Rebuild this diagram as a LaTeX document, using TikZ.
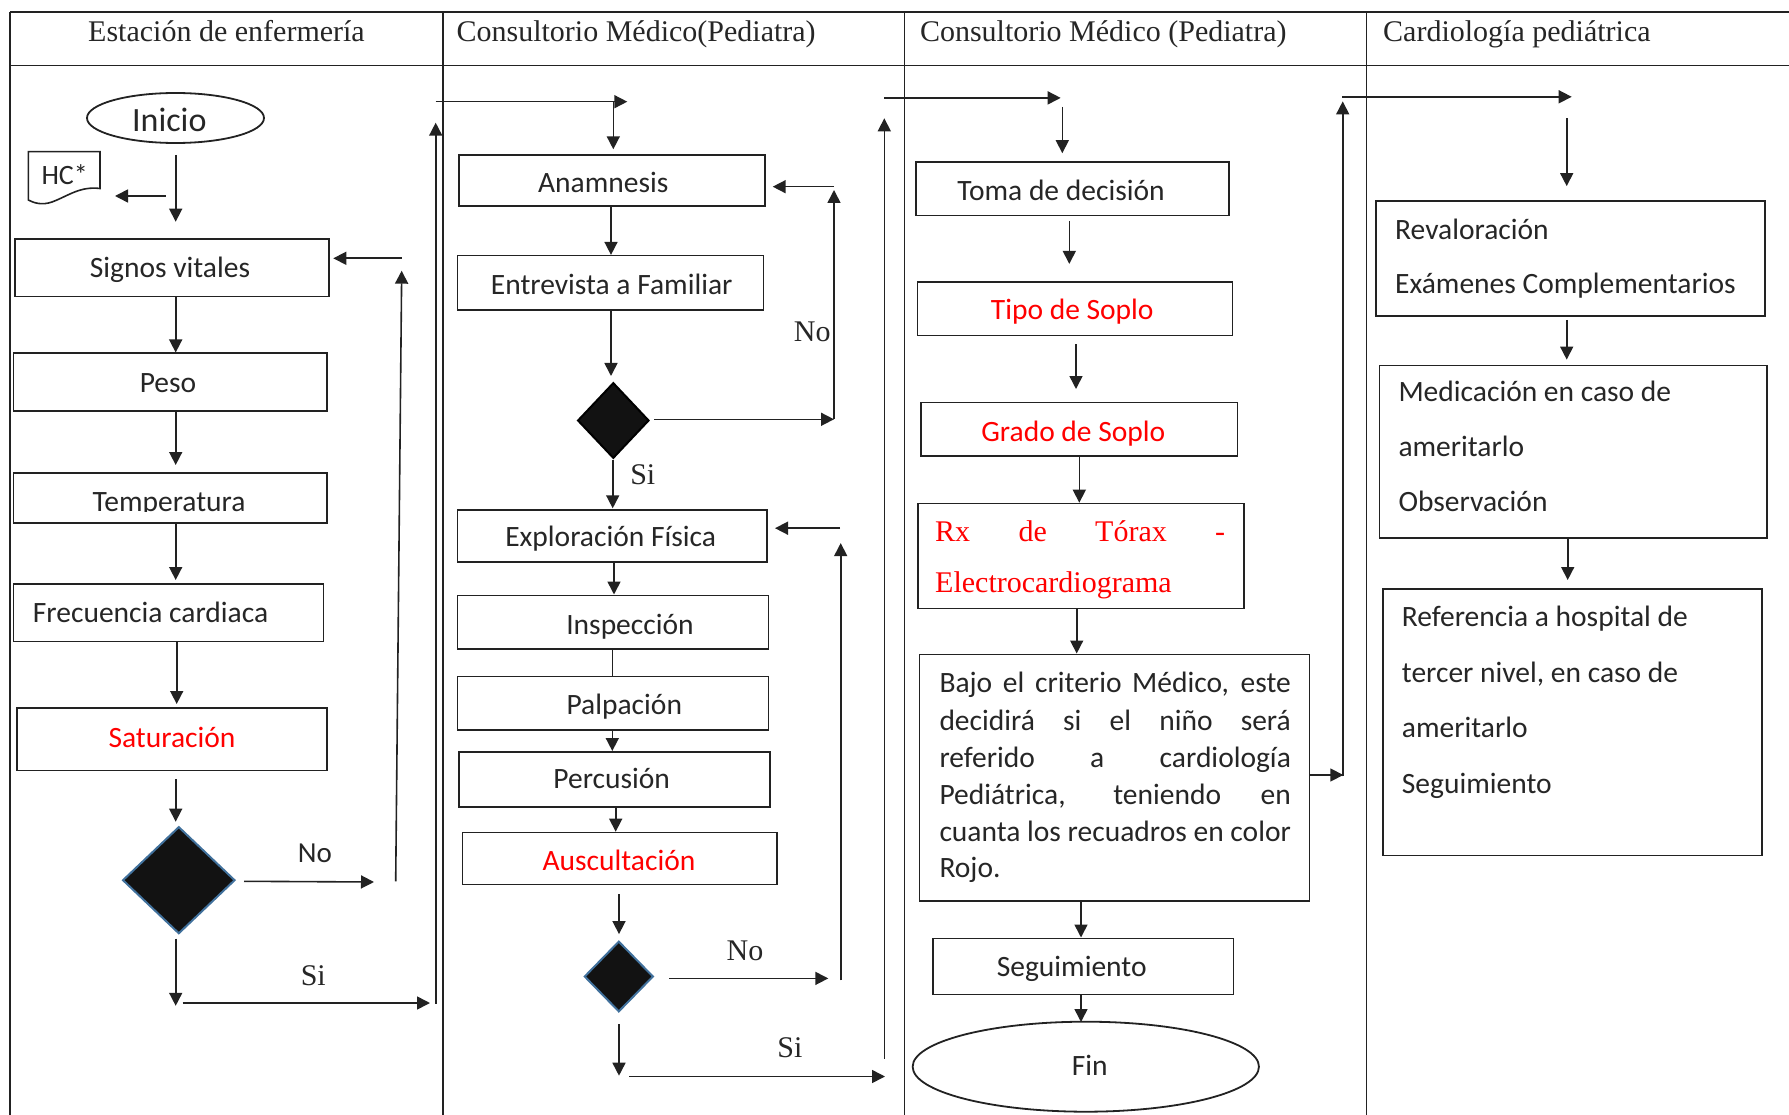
\documentclass[tikz,border=0pt]{standalone}
\usepackage{fontspec}
\setmainfont{Carlito}
\newfontfamily\serfam{Liberation Serif}
\usetikzlibrary{arrows.meta,shapes.geometric,fit}
\definecolor{linecol}{HTML}{222222}
\definecolor{txtcol}{HTML}{262626}
\definecolor{redtxt}{HTML}{FF0000}
\definecolor{edgeblue}{HTML}{41719C}
\newcommand\bodyf{\fontsize{29.5}{36}\selectfont}
\newcommand\serf{\serfam\fontsize{30}{36}\selectfont}
\begin{document}
\begin{tikzpicture}[x=1pt,y=-1pt,
  box/.style={draw=linecol, line width=1.6pt, rectangle, inner sep=0pt},
  txt/.style={inner sep=0pt, text height=19pt, text depth=0pt, font=\bodyf, text=txtcol},
  stxt/.style={inner sep=0pt, text height=20pt, text depth=0pt, font=\serf, text=txtcol},
  redt/.style={text=redtxt},
  arr/.style={draw=linecol, line width=1.6pt, -{Triangle[length=13pt,width=13pt]}},
  ln/.style={draw=linecol, line width=1.6pt},
  tbl/.style={draw=linecol, line width=1.8pt},
  dia/.style={diamond, fill=black!93, inner sep=0pt, line width=2pt},
  oval/.style={draw=linecol, line width=1.8pt, ellipse, inner sep=0pt}
]
\useasboundingbox (0,0) rectangle (1789,1115);
\fill[white] (0,0) rectangle (1789,1115);

% ---------- table ----------
\draw[tbl] (10,11.7) -- (1789,11.7);
\draw[tbl] (10,65.5) -- (1789,65.5);
\foreach \x in {10,442.7,904.5,1366.5} \draw[tbl] (\x,11.7) -- (\x,1115);
\node[stxt] (h1) at (226.5,31.5) {Estación de enfermería};
\node[stxt, anchor=west] (h2) at (456.4,31.5) {Consultorio Médico(Pediatra)};
\node[stxt, anchor=west] (h3) at (919.8,31.5) {Consultorio Médico (Pediatra)};
\node[stxt, anchor=west] (h4) at (1383,31.5) {Cardiología pediátrica};

% ---------- column 1 ----------
\node[oval, minimum width=177pt, minimum height=50pt] (inicio) at (175.5,118) {};
\node[txt, font=\fontsize{34}{40}\selectfont, text height=22pt] (inicioT) at (169.3,120.5) {Inicio};
\draw[ln, fill=white] (28.3,151.7) -- (100,151.7) -- (100,188.5)
  .. controls (80,186) and (68,196) .. (52,202)
  .. controls (42,205.5) and (34,203) .. (28.3,200) -- cycle;
\node[txt, font=\fontsize{28}{32}\selectfont, text height=18pt] (hc) at (64.7,175.5) {HC*};

\node[box, fit={(15,239.3) (328.7,296.7)}] (sv) {};
\node[txt] (svT) at (170,268.5) {Signos vitales};
\node[box, fit={(13.3,353.3) (326.7,411)}] (peso) {};
\node[txt] (pesoT) at (168,382.5) {Peso};
\node[box, fit={(13.3,472.7) (326.7,523)}] (temp) {};
\begin{scope}
\clip (13.3,472.7) rectangle (326.7,511.7);
\node[txt] (tempT) at (169,501.7) {Temperatura};
\end{scope}
\node[box, fit={(13.3,583.8) (323.3,641.4)}] (freq) {};
\node[txt, anchor=west] (freqT) at (32.7,613) {Frecuencia cardiaca};
\node[box, fit={(16.7,707.9) (327,770.5)}] (sat) {};
\node[txt, redt] (satT) at (172,738.2) {Saturación};
\node[dia, draw=edgeblue, minimum width=112.4pt, minimum height=107pt] (d1) at (178.8,880.2) {};
\node[txt, font=\fontsize{29}{34}\selectfont] (no1) at (315,853.2) {No};
\node[stxt] (si1) at (313.3,975.4) {Si};

\coordinate (xa) at (175.7,0);
\coordinate (a1) at (175.7,155);   \coordinate (a2) at (175.7,221.7);
\coordinate (b1) at (165.7,196);   \coordinate (b2) at (115,196);
\coordinate (d1e) at (175.7,465);
\coordinate (e1e) at (175.7,580);
\coordinate (xf) at (176.7,0);     \coordinate (f1e) at (176.7,704);
\coordinate (g1) at (175.7,779.2); \coordinate (g2) at (175.7,821.7);
\coordinate (h1s) at (244,881.3);  \coordinate (h1e) at (374,882);
\coordinate (i1) at (395.7,881.3); \coordinate (i2) at (401.7,270.7);
\coordinate (j1) at (401.7,258.3); \coordinate (j2) at (333.3,258.3);
\coordinate (k1) at (175.7,938.6); \coordinate (k2) at (175.7,1005.8);
\coordinate (l1) at (182.7,1003);  \coordinate (l2) at (430,1003);
\coordinate (m1) at (435.7,1003.9); \coordinate (m2) at (435.7,122.7);
\coordinate (n1) at (435.7,101.7); \coordinate (n2) at (627.3,101.7);
\coordinate (o1) at (613.3,101.7); \coordinate (o2) at (613.3,149.3);

\draw[arr] (a1) -- (a2);
\draw[arr] (b1) -- (b2);
\draw[arr] (sv.south -| xa) -- (peso.north -| xa);
\draw[arr] (peso.south -| xa) -- (d1e);
\draw[arr] (temp.south -| xa) -- (e1e);
\draw[arr] (freq.south -| xf) -- (f1e);
\draw[arr] (g1) -- (g2);
\draw[arr] (h1s) -- (h1e);
\draw[arr] (i1) -- (i2);
\draw[arr] (j1) -- (j2);
\draw[arr] (k1) -- (k2);
\draw[arr] (l1) -- (l2);
\draw[arr] (m1) -- (m2);
\draw[arr] (n1) -- (n2);
\draw[arr] (o1) -- (o2);

% ---------- column 2 ----------
\node[box, fit={(459,155) (765,206)}] (anam) {};
\node[txt] (anamT) at (603.3,182.6) {Anamnesis};
\node[box, fit={(457.3,255.7) (763.3,310)}] (entr) {};
\node[txt] (entrT) at (611.7,284.8) {Entrevista a Familiar};
\node[dia, draw=black, minimum width=71.4pt, minimum height=75.6pt] (d2) at (613.3,420.5) {};
\node[stxt] (no2) at (812.3,331.2) {No};
\node[stxt] (si2) at (642.8,474.2) {Si};
\node[box, fit={(457.3,509.8) (766.7,562)}] (expl) {};
\node[txt] (explT) at (610.7,537) {Exploración Física};
\node[box, fit={(457.3,595.3) (768.3,649)}] (insp) {};
\node[txt] (inspT) at (630,624.5) {Inspección};
\node[box, fit={(457.3,676.5) (768.3,730.2)}] (palp) {};
\node[txt] (palpT) at (624.3,704.7) {Palpación};
\node[box, fit={(459,751.8) (770,807)}] (perc) {};
\node[txt] (percT) at (611.7,779.2) {Percusión};
\node[box, fit={(462.3,832.5) (776.7,884.3)}] (ausc) {};
\node[txt, redt] (auscT) at (619,860.8) {Auscultación};
\node[dia, draw=edgeblue, minimum width=69pt, minimum height=70.6pt] (d3) at (618.8,976.5) {};
\node[stxt] (no3) at (745,950.2) {No};
\node[stxt] (si3) at (790,1047) {Si};

\coordinate (xp) at (611,0);
\coordinate (q2) at (611,376);
\coordinate (r1) at (654,419.3);  \coordinate (r2) at (834,419.3);
\coordinate (s2) at (834,190);
\coordinate (t1) at (834,186.7); \coordinate (t2) at (772.7,186.7);
\coordinate (u1) at (612.7,460); \coordinate (u2) at (612.7,508.3);
\coordinate (xv) at (614,0);
\coordinate (xw) at (612.3,0);
\coordinate (xy) at (615.7,0);
\coordinate (z1) at (619,894);   \coordinate (z2) at (619,934.1);
\coordinate (aa1) at (669.3,978.4); \coordinate (aa2) at (828.3,978.4);
\coordinate (ab1) at (840.7,980.4); \coordinate (ab2) at (840.7,543.1);
\coordinate (ac1) at (840,528.2);   \coordinate (ac2) at (775,528.2);
\coordinate (ad1) at (619,1024.3);  \coordinate (ad2) at (619,1075.7);
\coordinate (ae1) at (629.3,1076.5); \coordinate (ae2) at (885,1076.5);
\coordinate (af1) at (884.3,1058.8); \coordinate (af2) at (884.3,118.3);
\coordinate (ag1) at (884.3,97.9);  \coordinate (ag2) at (1060.7,97.9);
\coordinate (ah1) at (1062.3,106.8); \coordinate (ah2) at (1062.3,153.2);

\draw[arr] (anam.south -| xp) -- (entr.north -| xp);
\draw[arr] (entr.south -| xp) -- (q2);
\draw[arr] (r1) -- (r2);
\draw[arr] (r2) -- (s2);
\draw[arr] (t1) -- (t2);
\draw[arr] (u1) -- (u2);
\draw[arr] (expl.south -| xv) -- (insp.north -| xv);
\draw[ln]  (insp.south -| xw) -- (palp.north -| xw);
\draw[arr] (palp.south -| xw) -- (perc.north -| xw);
\draw[arr] (perc.south -| xy) -- (ausc.north -| xy);
\draw[arr] (z1) -- (z2);
\draw[arr] (aa1) -- (aa2);
\draw[arr] (ab1) -- (ab2);
\draw[arr] (ac1) -- (ac2);
\draw[arr] (ad1) -- (ad2);
\draw[arr] (ae1) -- (ae2);
\draw[arr] (af1) -- (af2);
\draw[arr] (ag1) -- (ag2);
\draw[arr] (ah1) -- (ah2);

% ---------- column 3 ----------
\node[box, fit={(916,162.1) (1229,215.7)}] (toma) {};
\node[txt] (tomaT) at (1061,190.7) {Toma de decisión};
\node[box, fit={(917.3,281.8) (1232.3,335.4)}] (tipo) {};
\node[txt, redt] (tipoT) at (1072.3,310.4) {Tipo de Soplo};
\node[box, fit={(921,402.5) (1237.3,456)}] (grado) {};
\node[txt, redt] (gradoT) at (1073.3,431.8) {Grado de Soplo};
\node[box, fit={(918,503.5) (1244,608.5)}] (rx) {};
\node[stxt, text=redtxt, anchor=west] (rx1) at (935,531.2) {\makebox[290pt][s]{Rx de Tórax -}};
\node[stxt, text=redtxt, anchor=west] (rx2) at (935,582.5) {Electrocardiograma};
\node[box, fit={(919.3,654.3) (1309.3,901)}] (bajo) {};
\node[txt, anchor=west] (bj1) at (939.3,683.3) {\makebox[351.4pt][s]{Bajo el criterio Médico, este}};
\node[txt, anchor=west] (bj2) at (939.3,720.7) {\makebox[351.4pt][s]{decidirá si el niño será}};
\node[txt, anchor=west] (bj3) at (939.3,758.3) {\makebox[351.4pt][s]{referido a cardiología}};
\node[txt, anchor=west] (bj4) at (939.3,795) {\makebox[351.4pt][s]{Pediátrica, teniendo en}};
\node[txt, anchor=west] (bj5) at (939.3,831.7) {\makebox[351.4pt][s]{cuanta los recuadros en color}};
\node[txt, anchor=west] (bj6) at (939.3,868.3) {Rojo.};
\node[box, fit={(932.7,938.3) (1233.3,994.3)}] (seg) {};
\node[txt] (segT) at (1071.7,967.2) {Seguimiento};
\node[oval, minimum width=346.3pt, minimum height=90pt] (fin) at (1085.8,1066.7) {};
\node[txt] (finT) at (1089.7,1066.2) {Fin};

\coordinate (ai1) at (1069.3,221); \coordinate (ai2) at (1069.3,263.9);
\coordinate (aj1) at (1076,344.3); \coordinate (aj2) at (1076,389);
\coordinate (xk) at (1079.3,0);
\coordinate (xl) at (1076.7,0);
\coordinate (xm) at (1081,0);
\coordinate (an2) at (1081,1022);
\coordinate (ao2) at (1343.3,775);
\coordinate (ap1) at (1342.7,776.4); \coordinate (ap2) at (1342.7,101.4);
\coordinate (aq1) at (1342.3,96.8);  \coordinate (aq2) at (1571.7,96.8);
\coordinate (ar1) at (1566.7,118.3); \coordinate (ar2) at (1566.7,186.1);

\draw[arr] (ai1) -- (ai2);
\draw[arr] (aj1) -- (aj2);
\draw[arr] (grado.south -| xk) -- (rx.north -| xk);
\draw[arr] (rx.south -| xl) -- (bajo.north -| xl);
\draw[arr] (bajo.south -| xm) -- (seg.north -| xm);
\draw[arr] (seg.south -| xm) -- (an2);
\draw[arr] (ao2 -| bajo.east) -- (ao2);
\draw[arr] (ap1) -- (ap2);
\draw[arr] (aq1) -- (aq2);
\draw[arr] (ar1) -- (ar2);

% ---------- column 4 ----------
\node[box, fit={(1376,201) (1765,316)}] (reval) {};
\node[txt, anchor=west] (rv1) at (1395,229.8) {Revaloración};
\node[txt, anchor=west] (rv2) at (1395,284.1) {Exámenes Complementarios};
\node[box, fit={(1379.3,365.7) (1766.7,538.2)}] (medic) {};
\node[txt, anchor=west] (md1) at (1398.3,392.2) {Medicación en caso de};
\node[txt, anchor=west] (md2) at (1398.3,447.3) {ameritarlo};
\node[txt, anchor=west] (md3) at (1398.3,502.4) {Observación};
\node[box, fit={(1382.7,588.7) (1761.7,855.5)}] (refer) {};
\node[txt, anchor=west] (rf1) at (1401.7,617.2) {Referencia a hospital de};
\node[txt, anchor=west] (rf2) at (1401.7,673.4) {tercer nivel, en caso de};
\node[txt, anchor=west] (rf3) at (1401.7,728) {ameritarlo};
\node[txt, anchor=west] (rf4) at (1401.7,784.1) {Seguimiento};

\coordinate (as1) at (1566.7,319.8); \coordinate (as2) at (1566.7,359.6);
\coordinate (xt) at (1567.7,0);      \coordinate (at2) at (1567.7,580);
\draw[arr] (as1) -- (as2);
\draw[arr] (medic.south -| xt) -- (at2);
\end{tikzpicture}
\end{document}
